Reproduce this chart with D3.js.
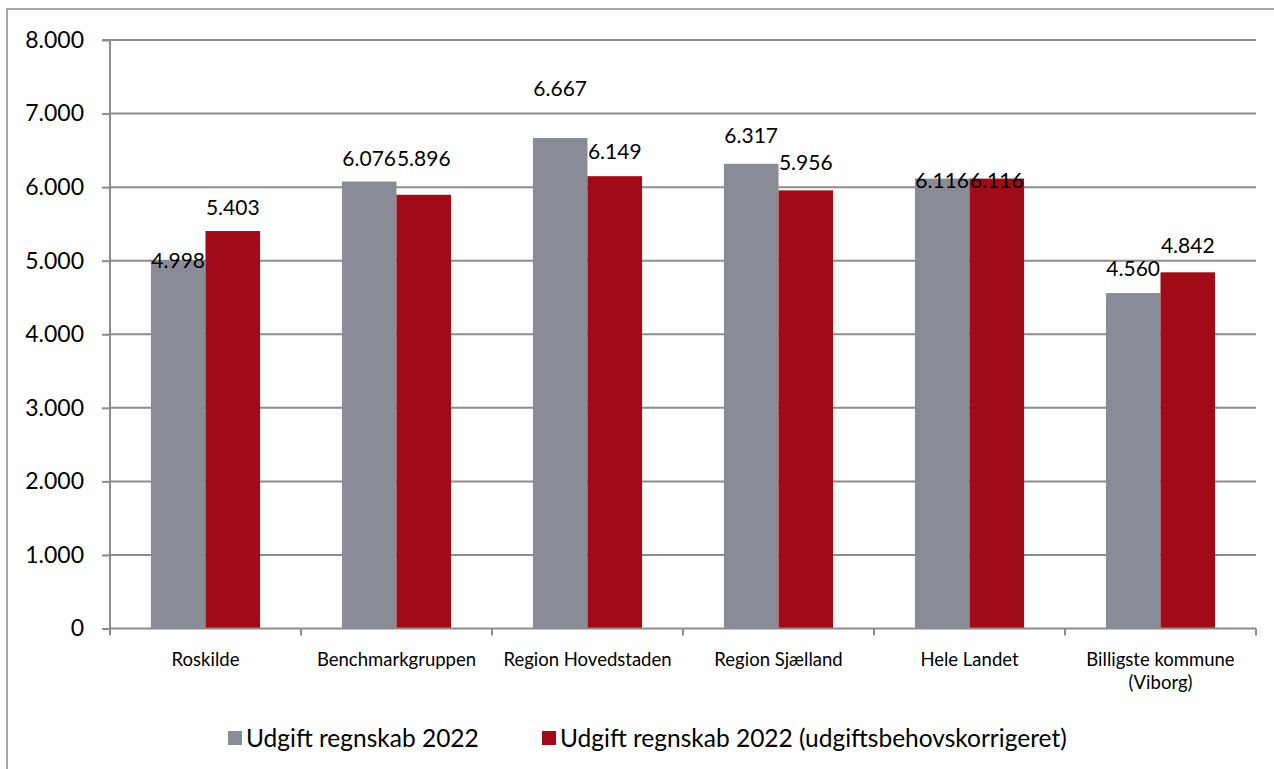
<!DOCTYPE html>
<html><head><meta charset="utf-8">
<script src="https://cdn.jsdelivr.net/npm/d3@7"></script>
<style>
html,body{margin:0;padding:0;background:#fff;}
svg{display:block;font-family:Lato,"Open Sans",sans-serif;}
</style></head>
<body>
<svg id="c" width="1274" height="769"></svg>
<script>
const categories = ["Roskilde","Benchmarkgruppen","Region Hovedstaden","Region Sjælland","Hele Landet","Billigste kommune\n(Viborg)"];
const seriesNames = ["Udgift regnskab 2022","Udgift regnskab 2022 (udgiftsbehovskorrigeret)"];
const udgift = [4998, 6076, 6667, 6317, 6116, 4560];
const korrigeret = [5403, 5896, 6149, 5956, 6116, 4842];
const yTicks = [0,1000,2000,3000,4000,5000,6000,7000,8000];
// layout: vertical nudge of data labels (px, label centre relative to bar top)
const labelNudge = [[0,-23],[-23,-36],[-49,-25],[-28,-28],[2,2],[-24,-27]];

const colors = ["#898c96","#a00b17"];
const fmt = v => d3.format(",")(v).replace(/,/g,".");
const svg = d3.select("#c");

// outer frame (only top/left visible)
svg.append("path").attr("d","M7,775 V9 H1290").attr("fill","none").attr("stroke","#a6a6a6").attr("stroke-width",2);

const pL = 110, pR = 1256, pT = 40, pB = 628.5;
const x = d3.scaleBand().domain(categories).range([pL,pR]).paddingInner(0).paddingOuter(0);
const y = d3.scaleLinear().domain([0,8000]).range([pB,pT]);
const inner = d3.scaleBand().domain([0,1]).range([0,x.bandwidth()]).paddingInner(0).paddingOuter(0.75);

// gridlines
svg.append("g").selectAll("line").data(yTicks.filter(d=>d>0)).join("line")
  .attr("x1",pL).attr("x2",pR).attr("y1",d=>y(d)).attr("y2",d=>y(d))
  .attr("stroke","#8c8c8c").attr("stroke-width",2);

// bars
const series = [udgift, korrigeret];
const bars = svg.append("g");
categories.forEach((c,i)=>{
  series.forEach((s,j)=>{
    bars.append("rect").attr("x",x(c)+inner(j)).attr("y",y(s[i]))
      .attr("width",inner.bandwidth()).attr("height",y(0)-y(s[i]))
      .attr("fill",colors[j]);
  });
});

// y axis
const yAxis = svg.append("g").attr("transform",`translate(${pL},0)`)
  .call(d3.axisLeft(y).tickValues(yTicks).tickFormat(fmt).tickSize(8).tickPadding(18));
yAxis.select(".domain").attr("stroke","#8c8c8c").attr("stroke-width",2).attr("d",`M-8,${pT}H0V${pB}`);
yAxis.selectAll(".tick line").attr("stroke","#8c8c8c").attr("stroke-width",2);
yAxis.selectAll(".tick text").attr("font-size",23).attr("fill","#000").attr("font-family","Lato");

// x axis
const xAxis = svg.append("g").attr("transform",`translate(0,${pB})`)
  .call(d3.axisBottom(x).tickSize(0).tickFormat(""));
xAxis.select(".domain").attr("stroke","#8c8c8c").attr("stroke-width",2).attr("d",`M${pL},0H${pR}`);
xAxis.selectAll(".tb").data(categories.concat([null])).join("line")
  .attr("x1",(d,i)=>pL+i*x.step()).attr("x2",(d,i)=>pL+i*x.step())
  .attr("y1",0).attr("y2",7).attr("stroke","#8c8c8c").attr("stroke-width",2);
categories.forEach(c=>{
  const lines = c.split("\n");
  const t = svg.append("text").attr("x",x(c)+x.bandwidth()/2).attr("y",666)
    .attr("text-anchor","middle").attr("font-size",18.5).attr("fill","#000");
  lines.forEach((l,k)=>t.append("tspan").attr("x",x(c)+x.bandwidth()/2).attr("dy",k?23:0).text(l));
});

// data labels
const lab = svg.append("g");
categories.forEach((c,i)=>{
  series.forEach((s,j)=>{
    lab.append("text").attr("x",x(c)+inner(j)+inner.bandwidth()/2)
      .attr("y",y(s[i])+labelNudge[i][j]).attr("dy","0.35em")
      .attr("text-anchor","middle").attr("font-size",21).attr("fill","#000").text(fmt(s[i]));
  });
});

// legend
const lg = svg.append("g");
const legX = [228,542];
seriesNames.forEach((n,j)=>{
  lg.append("rect").attr("x",legX[j]).attr("y",731).attr("width",14).attr("height",14).attr("fill",colors[j]);
  lg.append("text").attr("x",legX[j]+18).attr("y",738).attr("dy","0.35em").attr("font-size",24.5).attr("fill","#000").text(n);
});
</script>
</body></html>
